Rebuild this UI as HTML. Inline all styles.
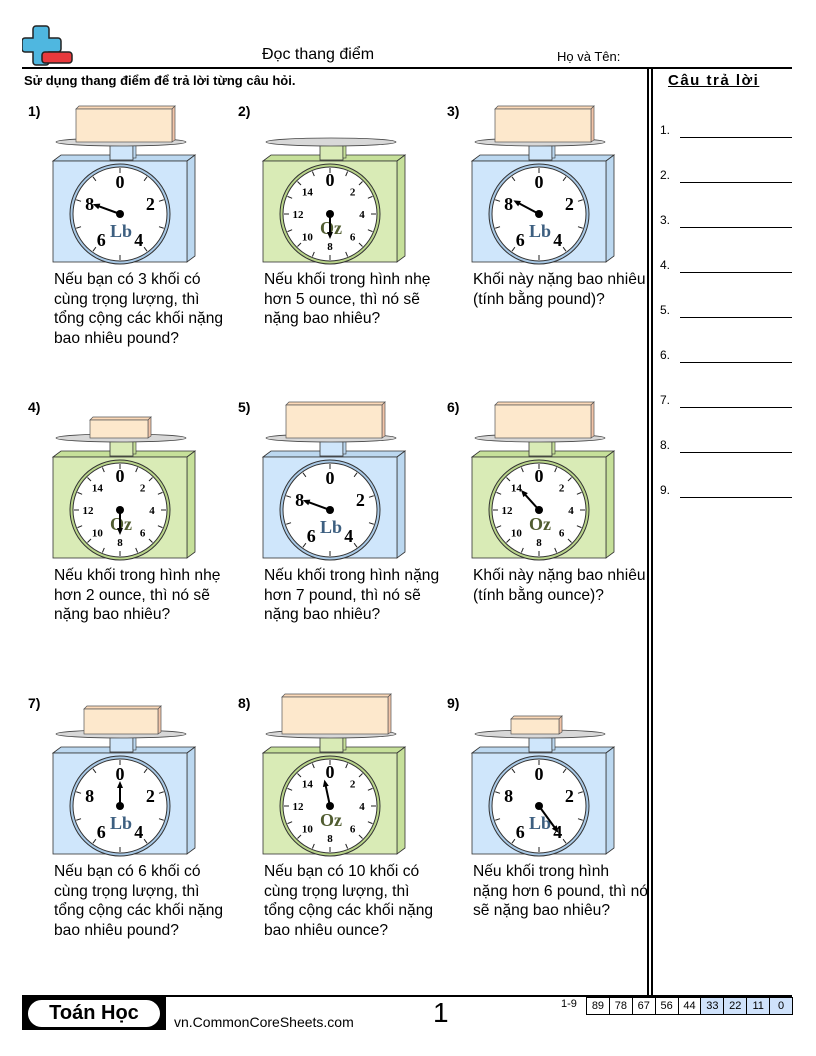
<!DOCTYPE html>
<html><head><meta charset="utf-8">
<style>
body{margin:0;background:#fff;}
#pg{position:relative;width:816px;height:1056px;overflow:hidden;font-family:"Liberation Sans",sans-serif;color:#000;}
.a{position:absolute;}
.q{position:absolute;font-size:15.6px;line-height:19.6px;white-space:nowrap;}
.n{position:absolute;font-weight:bold;font-size:14px;}
.al{position:absolute;font-size:12px;}
.ln{position:absolute;height:1px;background:#000;width:112px;left:680px;}
</style></head><body><div id="pg">
<svg class="a" style="left:22px;top:24px" width="60" height="44">
<path d="M14,2 h10 a3,3 0 0 1 3,3 v9 h9 a3,3 0 0 1 3,3 v8 a3,3 0 0 1 -3,3 h-9 v10 a3,3 0 0 1 -3,3 h-10 a3,3 0 0 1 -3,-3 v-10 h-8 a3,3 0 0 1 -3,-3 v-8 a3,3 0 0 1 3,-3 h8 v-9 a3,3 0 0 1 3,-3z" fill="#4fb7e0" stroke="#222" stroke-width="1.5"/>
<rect x="20" y="28" width="30" height="11" rx="3" fill="#e8393c" stroke="#222" stroke-width="1.5"/>
</svg>
<div class="a" style="left:262px;top:46px;font-size:16px">Đọc thang điểm</div>
<div class="a" style="left:557px;top:49px;font-size:13px">Họ và Tên:</div>
<div class="a" style="left:22px;top:67px;width:770px;height:2px;background:#000"></div>
<div class="a" style="left:24px;top:73px;font-size:13px;font-weight:bold">Sử dụng thang điểm để trả lời từng câu hỏi.</div>
<div class="a" style="left:647px;top:69px;width:1.5px;height:926px;background:#000"></div>
<div class="a" style="left:651px;top:69px;width:1.5px;height:926px;background:#000"></div>
<div class="a" style="left:668px;top:72px;font-size:15px;font-weight:bold;letter-spacing:1.5px;text-decoration:underline">Câu trả lời</div>
<div id="ans"></div>
<svg id="sc" class="a" style="left:0;top:0" width="816" height="1056"></svg>
<div id="txt"></div>
<div class="a" style="left:22px;top:995px;width:770px;height:1.5px;background:#000"></div>
<div class="a" style="left:22px;top:997px;width:144px;height:33px;background:#000"></div>
<div class="a" style="left:28px;top:1000px;width:132px;height:27px;background:#fff;border-radius:14px;text-align:center;font-size:20px;font-weight:bold;line-height:27px">Toán Học</div>
<div class="a" style="left:174px;top:1014px;font-size:14px">vn.CommonCoreSheets.com</div>
<div class="a" style="left:433px;top:997px;font-size:28px">1</div>
<div class="a" style="left:561px;top:998px;font-size:11px">1-9</div>
<div id="tb" class="a" style="left:586px;top:997px;height:16px;display:flex;border:1px solid #000;border-right:none"></div>
<script>
let h='';
const cols=[0,210,419],rows=[0,296,592];
const P=[
 {b:[76,106,172],lb:1,a:290,l:26},
 {b:[300,120,357],lb:0,a:180,l:22},
 {b:[76,106,172],lb:1,a:298,l:26},
 {b:[90,121,148],lb:0,a:180,l:22},
 {b:[76,106,172],lb:1,a:290,l:26},
 {b:[76,106,172],lb:0,a:318,l:24},
 {b:[84,114,158],lb:1,a:0,l:22},
 {b:[72,102,178],lb:0,a:348,l:24},
 {b:[92,124,140],lb:1,a:144,l:30}];
for(let i=0;i<9;i++){
 const ox=cols[i%3],oy=rows[Math.floor(i/3)],p=P[i];
 const lb=p.lb,fill=lb?'#cfe6fb':'#d9ebb6',side=lb?'#bcd8f0':'#c6e09a',ring=lb?'#a9c9e6':'#b9d48a';
 const X=x=>x+ox,Y=y=>y+oy;
 h+=`<polygon points="${X(53)},${Y(161)} ${X(61)},${Y(155)} ${X(195)},${Y(155)} ${X(187)},${Y(161)}" fill="${side}" stroke="#333" stroke-width="0.8"/>`;
 h+=`<polygon points="${X(187)},${Y(161)} ${X(195)},${Y(155)} ${X(195)},${Y(256)} ${X(187)},${Y(262)}" fill="${side}" stroke="#333" stroke-width="0.8"/>`;
 h+=`<rect x="${X(53)}" y="${Y(161)}" width="134" height="101" fill="${fill}" stroke="#333" stroke-width="0.8"/>`;
 h+=`<rect x="${X(110)}" y="${Y(145)}" width="23" height="15" fill="${fill}" stroke="#333" stroke-width="0.8"/>`;
 h+=`<rect x="${X(133)}" y="${Y(145)}" width="3" height="13" fill="${side}" stroke="#333" stroke-width="0.6"/>`;
 h+=`<ellipse cx="${X(121)}" cy="${Y(142)}" rx="65" ry="4" fill="#d8d8d8" stroke="#444" stroke-width="0.8"/>`;
 const [bx1,by,bx2]=p.b;
 h+=`<polygon points="${X(bx1)},${Y(by+3)} ${X(bx1+3)},${Y(by)} ${X(bx2+3)},${Y(by)} ${X(bx2)},${Y(by+3)}" fill="#fcd9b8" stroke="#555" stroke-width="0.7"/>`;
 h+=`<polygon points="${X(bx2)},${Y(by+3)} ${X(bx2+3)},${Y(by)} ${X(bx2+3)},${Y(140)} ${X(bx2)},${Y(142)}" fill="#f2c4a8" stroke="#555" stroke-width="0.7"/>`;
 h+=`<rect x="${X(bx1)}" y="${Y(by+3)}" width="${bx2-bx1}" height="${139-by}" fill="#fde8cc" stroke="#555" stroke-width="0.7"/>`;
 const cx=X(120),cy=Y(214);
 h+=`<circle cx="${cx}" cy="${cy}" r="50" fill="${ring}" stroke="#333" stroke-width="1"/>`;
 h+=`<circle cx="${cx}" cy="${cy}" r="47" fill="#fff" stroke="#333" stroke-width="1"/>`;
 const n=lb?10:16;
 for(let k=0;k<n;k++){const t=k*2*Math.PI/n,s=Math.sin(t),c=-Math.cos(t);
  h+=`<line x1="${cx+s*41}" y1="${cy+c*41}" x2="${cx+s*46}" y2="${cy+c*46}" stroke="#222" stroke-width="1"/>`;}
 if(lb){[0,2,4,6,8].forEach(v=>{const t=v*36*Math.PI/180;h+=`<text x="${cx+Math.sin(t)*32}" y="${cy-Math.cos(t)*32+6}" font-family="Liberation Serif" font-weight="bold" font-size="18" text-anchor="middle">${v}</text>`});
  h+=`<text x="${cx+1}" y="${cy+23}" font-family="Liberation Serif" font-weight="bold" font-size="18" fill="#3d5f80" text-anchor="middle">Lb</text>`;}
 else{[0,2,4,6,8,10,12,14].forEach(v=>{const t=v*22.5*Math.PI/180,r=v==0?34:32,fs=v==0?18:11;h+=`<text x="${cx+Math.sin(t)*r}" y="${cy-Math.cos(t)*r+(v==0?6:4)}" font-family="Liberation Serif" font-weight="bold" font-size="${fs}" text-anchor="middle">${v}</text>`});
  h+=`<text x="${cx+1}" y="${cy+20}" font-family="Liberation Serif" font-weight="bold" font-size="18" fill="#505c30" text-anchor="middle">Oz</text>`;}
 const t=p.a*Math.PI/180,ex=cx+Math.sin(t)*p.l,ey=cy-Math.cos(t)*p.l;
 h+=`<line x1="${cx}" y1="${cy}" x2="${ex}" y2="${ey}" stroke="#000" stroke-width="2"/>`;
 const bx=Math.sin(t),by2=-Math.cos(t),px=-by2,py=bx;
 h+=`<polygon points="${ex+bx*3},${ey+by2*3} ${ex-bx*4+px*3},${ey-by2*4+py*3} ${ex-bx*4-px*3},${ey-by2*4-py*3}" fill="#000"/>`;
 h+=`<circle cx="${cx}" cy="${cy}" r="4" fill="#000"/>`;
}
document.getElementById('sc').innerHTML=h;
const T=["Nếu bạn có 3 khối có<br>cùng trọng lượng, thì<br>tổng cộng các khối nặng<br>bao nhiêu pound?",
"Nếu khối trong hình nhẹ<br>hơn 5 ounce, thì nó sẽ<br>nặng bao nhiêu?",
"Khối này nặng bao nhiêu<br>(tính bằng pound)?",
"Nếu khối trong hình nhẹ<br>hơn 2 ounce, thì nó sẽ<br>nặng bao nhiêu?",
"Nếu khối trong hình nặng<br>hơn 7 pound, thì nó sẽ<br>nặng bao nhiêu?",
"Khối này nặng bao nhiêu<br>(tính bằng ounce)?",
"Nếu bạn có 6 khối có<br>cùng trọng lượng, thì<br>tổng cộng các khối nặng<br>bao nhiêu pound?",
"Nếu bạn có 10 khối có<br>cùng trọng lượng, thì<br>tổng cộng các khối nặng<br>bao nhiêu ounce?",
"Nếu khối trong hình<br>nặng hơn 6 pound, thì nó<br>sẽ nặng bao nhiêu?"];
let s='';
for(let i=0;i<9;i++){const ox=cols[i%3],oy=rows[Math.floor(i/3)];
 s+=`<div class="n" style="left:${28+ox}px;top:${103+oy}px">${i+1})</div>`;
 s+=`<div class="q" style="left:${54+ox}px;top:${270+oy}px">${T[i]}</div>`;}
document.getElementById('txt').innerHTML=s;
let a='';
for(let i=0;i<9;i++){a+=`<div class="al" style="left:660px;top:${123+i*45}px">${i+1}.</div><div class="ln" style="top:${137+i*45}px"></div>`;}
document.getElementById('ans').innerHTML=a;
let b='';
["89","78","67","56","44","33","22","11","0"].forEach((v,i)=>{b+=`<div style="width:${21.9}px;height:16px;border-right:1px solid #000;font-size:11px;text-align:center;line-height:16px;background:${i>=5?'#cfe2fb':'#fff'}">${v}</div>`});
document.getElementById('tb').innerHTML=b;
</script>
</div></body></html>
